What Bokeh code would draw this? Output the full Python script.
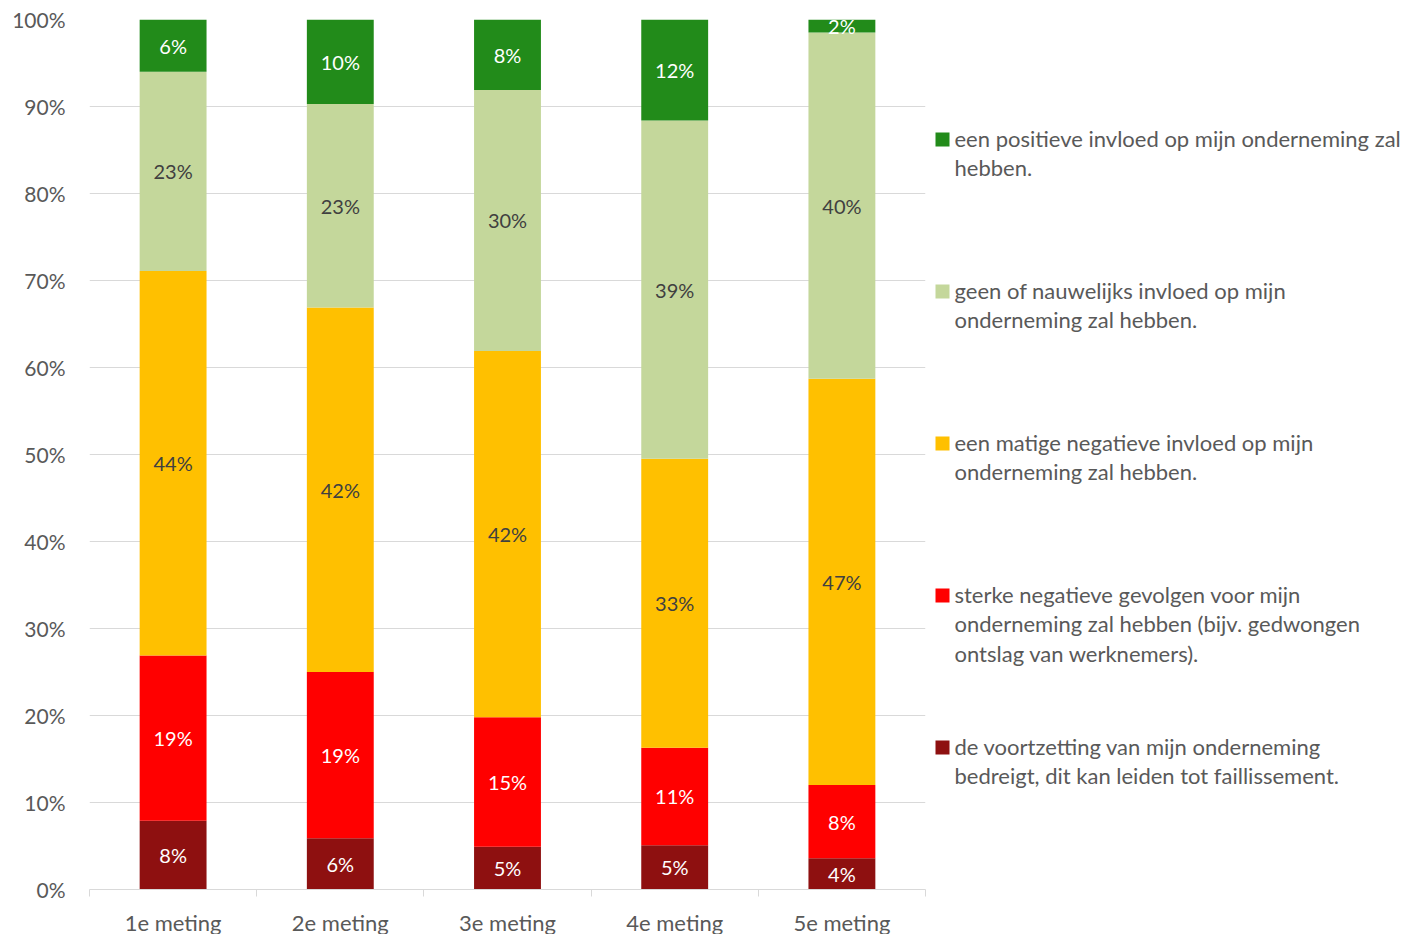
from bokeh.plotting import figure
from bokeh.models import ColumnDataSource, Range1d, FixedTicker, PrintfTickFormatter
from bokeh.layouts import row
from bokeh.core.properties import value
from bokeh.embed import file_html
from bokeh.resources import INLINE

# ---- data ----
categories = ["1e meting", "2e meting", "3e meting", "4e meting", "5e meting"]
series_names = [
    "de voortzetting van mijn onderneming\nbedreigt, dit kan leiden tot faillissement.",
    "sterke negatieve gevolgen voor mijn\nonderneming zal hebben (bijv. gedwongen\nontslag van werknemers).",
    "een matige negatieve invloed op mijn\nonderneming zal hebben.",
    "geen of nauwelijks invloed op mijn\nonderneming zal hebben.",
    "een positieve invloed op mijn onderneming zal\nhebben.",
]
bedreigd = [7.9, 5.9, 4.9, 5.1, 3.6]
sterk_negatief = [19.0, 19.1, 14.9, 11.2, 8.4]
matig_negatief = [44.2, 41.9, 42.1, 33.2, 46.7]
geen_invloed = [22.9, 23.4, 30.0, 38.9, 39.8]
positief = [6.0, 9.7, 8.1, 11.6, 1.5]
y_ticks = [0, 10, 20, 30, 40, 50, 60, 70, 80, 90, 100]

series = [bedreigd, sterk_negatief, matig_negatief, geen_invloed, positief]
colors = ["#8E1010", "#FF0000", "#FFC000", "#C4D79B", "#228B1A"]
label_colors = ["#FFFFFF", "#FFFFFF", "#404040", "#404040", "#FFFFFF"]

FONT = "Lato"
TXT = "#595959"

# ---- main chart ----
p = figure(frame_width=836, frame_height=870, min_border_left=89, min_border_top=19,
           min_border_right=4, min_border_bottom=0,
           x_range=Range1d(0, len(categories)), y_range=Range1d(0, 100),
           output_backend="svg", toolbar_location=None)
p.outline_line_color = None

xs = [i + 0.5 for i in range(len(categories))]
bottoms = [0.0] * len(categories)
lab_x, lab_y, lab_t, lab_c = [], [], [], []
for vals, col, lc in zip(series, colors, label_colors):
    tops = [b + v for b, v in zip(bottoms, vals)]
    src = ColumnDataSource(dict(x=xs, bottom=bottoms, top=tops))
    p.vbar(x="x", bottom="bottom", top="top", width=0.4, source=src,
           fill_color=col, line_color=None)
    for x, b, t, v in zip(xs, bottoms, tops, vals):
        lab_x.append(x)
        lab_y.append((b + t) / 2)
        lab_t.append(f"{v:.0f}%")
        lab_c.append(lc)
    bottoms = tops

lsrc = ColumnDataSource(dict(x=lab_x, y=lab_y, t=lab_t, c=lab_c))
p.text(x="x", y="y", text="t", source=lsrc, text_color="c",
       text_font=value(FONT), text_font_size="20px",
       text_align="center", text_baseline="middle")

# axes
p.xgrid.grid_line_color = None
p.ygrid.grid_line_color = "#D9D9D9"
p.ygrid.grid_line_width = 1
p.ygrid.ticker = FixedTicker(ticks=y_ticks)

xa = p.xaxis[0]
xa.ticker = FixedTicker(ticks=xs, minor_ticks=list(range(len(categories) + 1)))
xa.major_label_overrides = {x: c for x, c in zip(xs, categories)}
xa.axis_line_color = "#D9D9D9"
xa.major_tick_line_color = None
xa.major_tick_out = 0
xa.major_tick_in = 0
xa.minor_tick_line_color = "#D9D9D9"
xa.minor_tick_out = 7
xa.minor_tick_in = 0
xa.major_label_standoff = 12
xa.major_label_text_font = FONT
xa.major_label_text_font_size = "22px"
xa.major_label_text_color = TXT

ya = p.yaxis[0]
ya.ticker = FixedTicker(ticks=y_ticks)
ya.formatter = PrintfTickFormatter(format="%d%%")
ya.axis_line_color = None
ya.major_tick_line_color = None
ya.minor_tick_line_color = None
ya.major_tick_out = 0
ya.major_tick_in = 0
ya.major_label_standoff = 24
ya.major_label_text_font = FONT
ya.major_label_text_font_size = "21px"
ya.major_label_text_color = TXT

# ---- legend panel ----
LW, LH = 480, 900
lg = figure(frame_width=LW, frame_height=LH, x_range=Range1d(0, LW), y_range=Range1d(LH, 0),
            min_border=0, output_backend="svg", toolbar_location=None)
lg.axis.visible = False
lg.grid.grid_line_color = None
lg.outline_line_color = None

order = list(range(len(series_names)))[::-1]
ly = [120 + 152 * k for k in range(len(order))]
lsq = ColumnDataSource(dict(x=[13] * len(order), y=ly, c=[colors[i] for i in order]))
lg.scatter(x="x", y="y", marker="square", size=14, fill_color="c", line_color=None, source=lsq)
ltx = ColumnDataSource(dict(x=[25] * len(order), y=[v - 15 for v in ly],
                            t=[series_names[i] for i in order]))
lg.text(x="x", y="y", text="t", source=ltx, text_color=TXT,
        text_font=value(FONT), text_font_size="22px", text_line_height=1.1,
        text_align="left", text_baseline="top")

layout = row(p, lg)
open("out.html", "w").write(file_html(layout, INLINE))
